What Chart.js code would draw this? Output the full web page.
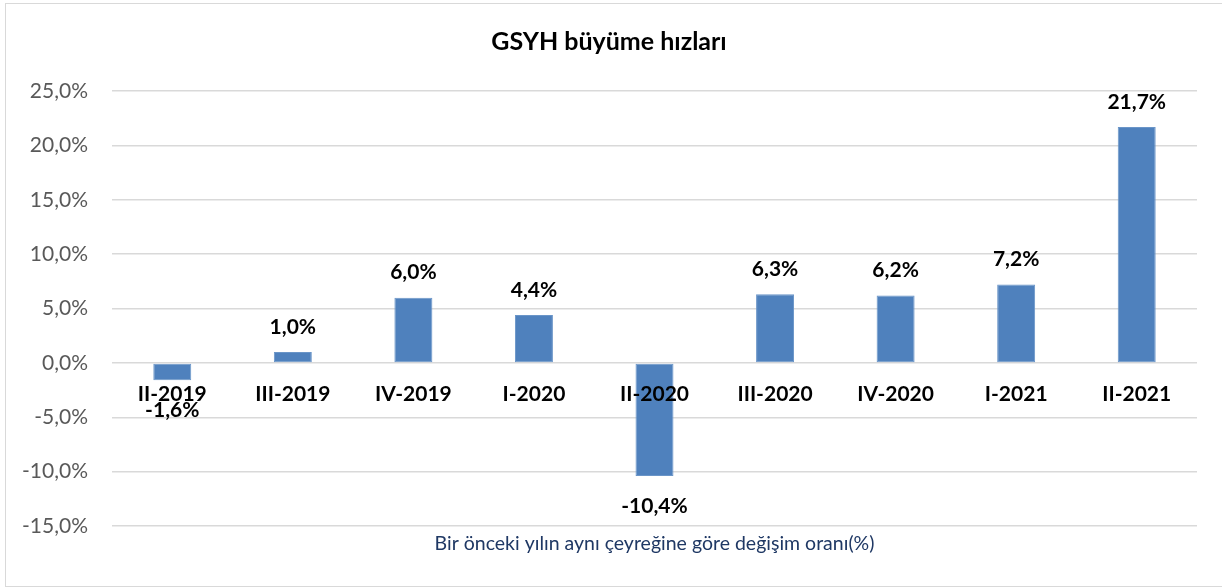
<!DOCTYPE html>
<html>
<head>
<meta charset="utf-8">
<script src="https://cdn.jsdelivr.net/npm/chart.js@4"></script>
<style>
  body { margin: 0; background: #fff; }
  #wrap { width: 1222px; height: 588px; position: relative; }
</style>
</head>
<body>
<div id="wrap"><canvas id="gdpChart"></canvas></div>
<script>
// DATA
const quarters = ["II-2019", "III-2019", "IV-2019", "I-2020", "II-2020", "III-2020", "IV-2020", "I-2021", "II-2021"];
const growth = [-1.6, 1.0, 6.0, 4.4, -10.4, 6.3, 6.2, 7.2, 21.7];
const yTicks = [-15, -10, -5, 0, 5, 10, 15, 20, 25];

const chartTitle = "GSYH büyüme hızları";
const axisTitle = "Bir önceki yılın aynı çeyreğine göre değişim oranı(%)";

const FONT = "Lato, 'Open Sans', sans-serif";

function pct(v) {
  return v.toFixed(1).replace(".", ",") + "%";
}

// draws frame, title, category labels on zero line, value labels, bottom note
const extras = {
  id: "extras",
  afterDatasetsDraw(chart) {
    const ctx = chart.ctx;
    const x = chart.scales.x;
    const y = chart.scales.y;
    const area = chart.chartArea;
    ctx.save();

    // frame
    ctx.strokeStyle = "#d9d9d9";
    ctx.lineWidth = 1;
    ctx.strokeRect(5.5, 3.5, 1222, 583);

    // title
    ctx.fillStyle = "#000";
    ctx.font = "bold 25px " + FONT;
    ctx.textAlign = "center";
    ctx.textBaseline = "middle";
    ctx.fillText(chartTitle, 609, 42);

    // category labels at zero line
    const zeroY = y.getPixelForValue(0);
    ctx.font = "bold 21px " + FONT;
    quarters.forEach(function (q, i) {
      ctx.fillText(q, x.getPixelForValue(i), zeroY + 31);
    });

    // value labels
    const meta = chart.getDatasetMeta(0);
    meta.data.forEach(function (bar, i) {
      const v = growth[i];
      const ly = v >= 0 ? bar.y - 25 : bar.y + 30;
      ctx.fillText(pct(v), bar.x, ly);
    });

    // bottom note
    ctx.fillStyle = "#1f3864";
    ctx.font = "19.5px " + FONT;
    ctx.fillText(axisTitle, (area.left + area.right) / 2, 544);

    ctx.restore();
  }
};

const ctx = document.getElementById("gdpChart").getContext("2d");

new Chart(ctx, {
  type: "bar",
  data: {
    labels: quarters,
    datasets: [{
      data: growth,
      backgroundColor: "#4f81bd",
      borderColor: "#6a95c8",
      borderWidth: 1,
      borderSkipped: false,
      categoryPercentage: 1,
      barPercentage: 0.315
    }]
  },
  options: {
    responsive: true,
    maintainAspectRatio: false,
    animation: false,
    layout: {
      padding: { top: 91, bottom: 62, left: 0, right: 25 }
    },
    plugins: {
      legend: { display: false },
      tooltip: { enabled: false }
    },
    scales: {
      x: {
        display: false
      },
      y: {
        min: -15,
        max: 25,
        afterFit(scale) { scale.width = 112; },
        afterBuildTicks(scale) {
          scale.ticks = yTicks.map(function (v) { return { value: v }; });
        },
        border: { display: false },
        grid: {
          color: "#d9d9d9",
          lineWidth: 1.5,
          drawTicks: false
        },
        ticks: {
          padding: 24,
          color: "#595959",
          font: { family: FONT, size: 21 },
          callback: function (v) { return pct(v); }
        }
      }
    }
  },
  plugins: [extras]
});
</script>
</body>
</html>
